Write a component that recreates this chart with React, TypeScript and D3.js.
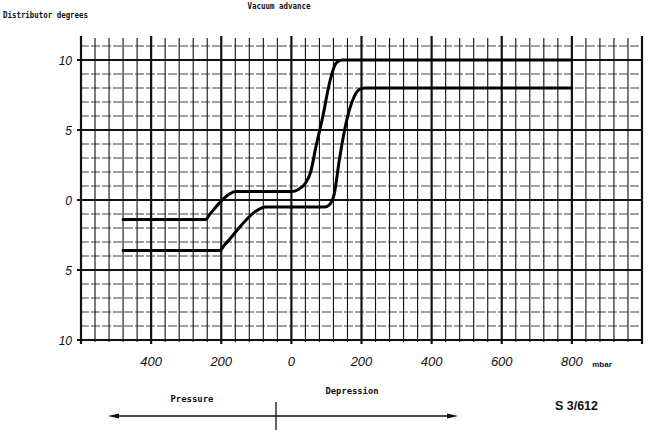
import React from 'react';
import * as d3 from 'd3';

const title = 'Vacuum advance';
const yTitle = 'Distributor degrees';
const unitLabel = 'mbar';
const pressureLabel = 'Pressure';
const depressionLabel = 'Depression';
const figureCode = 'S 3/612';

const xTicks = [-400, -200, 0, 200, 400, 600, 800];
const xTickLabels = ['400', '200', '0', '200', '400', '600', '800'];
const yTicks = [10, 5, 0, -5, -10];
const yTickLabels = ['10', '5', '0', '5', '10'];

// upper characteristic (mbar, degrees)
const upperX = [-480, -245, -232, -175, -160, 0, 20, 40, 55, 70, 90, 110, 128, 145, 170, 800];
const upperY = [-1.4, -1.4, -1.0, 0.45, 0.6, 0.6, 0.75, 1.2, 2.0, 3.8, 6.0, 8.5, 9.8, 10, 10, 10];

// lower characteristic (mbar, degrees)
const lowerX = [-480, -205, -190, -95, -75, 95, 110, 122, 137, 156, 176, 192, 210, 800];
const lowerY = [-3.6, -3.6, -3.2, -0.7, -0.5, -0.5, -0.3, 0.4, 2.9, 5.5, 7.2, 7.85, 8, 8];

const W = 671;
const H = 430;

export default function App() {
  const x = d3.scaleLinear().domain([-600, 1000]).range([81, 642]);
  const y = d3.scaleLinear().domain([-10, 10]).range([340, 60]);

  const vLines = d3.range(-600, 1001, 40);
  const hLines = d3.range(-10, 12, 1);

  const line = d3
    .line<[number, number]>()
    .x((d) => x(d[0]))
    .y((d) => y(d[1]))
    .curve(d3.curveMonotoneX);

  const upper = upperX.map((v, i) => [v, upperY[i]] as [number, number]);
  const lower = lowerX.map((v, i) => [v, lowerY[i]] as [number, number]);

  const mono = "'DejaVu Sans Mono', monospace";
  const sans = "'Liberation Sans', Arial, sans-serif";

  const arrowY = 416;
  const arrowL = 108;
  const arrowR = 458;
  const markX = 276;

  return (
    <svg
      width={W}
      height={H}
      style={{ position: 'absolute', left: 0, top: 0, background: '#fff' }}
    >
      <rect x={0} y={0} width={W} height={H} fill="#fff" />
      {/* titles */}
      <text x={279} y={9} fontFamily={mono} fontSize={8} fontWeight="bold" fill="#111" textAnchor="middle" textLength={63} lengthAdjust="spacingAndGlyphs">
        {title}
      </text>
      <text x={3} y={18} fontFamily={mono} fontSize={8.5} fontWeight="bold" fill="#111" textLength={85} lengthAdjust="spacingAndGlyphs">
        {yTitle}
      </text>

      {/* grid: horizontal lines */}
      {hLines.map((v) => {
        const major = v % 5 === 0;
        return (
          <line
            key={'h' + v}
            x1={major ? 77 : 80}
            x2={x(1000)}
            y1={y(v)}
            y2={y(v)}
            stroke={major ? '#111' : '#444'}
            strokeWidth={major ? 2.2 : 1.1}
            strokeDasharray={major ? undefined : '9 2'}
          />
        );
      })}
      {/* grid: vertical lines */}
      {vLines.map((v) => {
        const major = v % 200 === 0;
        return (
          <line
            key={'v' + v}
            x1={x(v)}
            x2={x(v)}
            y1={major ? 36 : 38}
            y2={major ? 344 : 342}
            stroke="#111"
            strokeWidth={major ? 2.2 : 1.1}
          />
        );
      })}

      {/* curves */}
      <path d={line(upper) || ''} fill="none" stroke="#000" strokeWidth={3} strokeLinejoin="round" strokeLinecap="round" />
      <path d={line(lower) || ''} fill="none" stroke="#000" strokeWidth={3} strokeLinejoin="round" strokeLinecap="round" />

      {/* y tick labels */}
      {yTicks.map((v, i) => (
        <text
          key={'yl' + v + i}
          x={72}
          y={y(v) + 4.5}
          textAnchor="end"
          fontFamily={sans}
          fontStyle="italic"
          fontSize={12}
          fill="#111"
        >
          {yTickLabels[i]}
        </text>
      ))}
      {/* x tick labels */}
      {xTicks.map((v, i) => (
        <text
          key={'xl' + v}
          x={x(v)}
          y={366}
          textAnchor="middle"
          fontFamily={sans}
          fontStyle="italic"
          fontSize={13}
          fill="#111"
        >
          {xTickLabels[i]}
        </text>
      ))}
      <text x={602} y={367} textAnchor="middle" fontFamily={sans} fontWeight="bold" fontSize={8} fill="#111">
        {unitLabel}
      </text>

      {/* direction labels and arrows */}
      <text x={192} y={402} textAnchor="middle" fontFamily={mono} fontSize={9} fontWeight="bold" fill="#111" textLength={43} lengthAdjust="spacingAndGlyphs">
        {pressureLabel}
      </text>
      <text x={352} y={394} textAnchor="middle" fontFamily={mono} fontSize={9} fontWeight="bold" fill="#111" textLength={53} lengthAdjust="spacingAndGlyphs">
        {depressionLabel}
      </text>
      <line x1={arrowL + 8} x2={arrowR - 8} y1={arrowY} y2={arrowY} stroke="#111" strokeWidth={1.3} />
      <path d={`M${arrowL},${arrowY} L${arrowL + 11},${arrowY - 2.5} L${arrowL + 11},${arrowY + 2.5} Z`} fill="#111" />
      <path d={`M${arrowR},${arrowY} L${arrowR - 11},${arrowY - 2.5} L${arrowR - 11},${arrowY + 2.5} Z`} fill="#111" />
      <line x1={markX} x2={markX} y1={402} y2={430} stroke="#111" strokeWidth={1.3} />

      <text x={555} y={410} fontFamily={sans} fontWeight="bold" fontSize={12} fill="#111" textLength={43} lengthAdjust="spacingAndGlyphs">
        {figureCode}
      </text>
    </svg>
  );
}
